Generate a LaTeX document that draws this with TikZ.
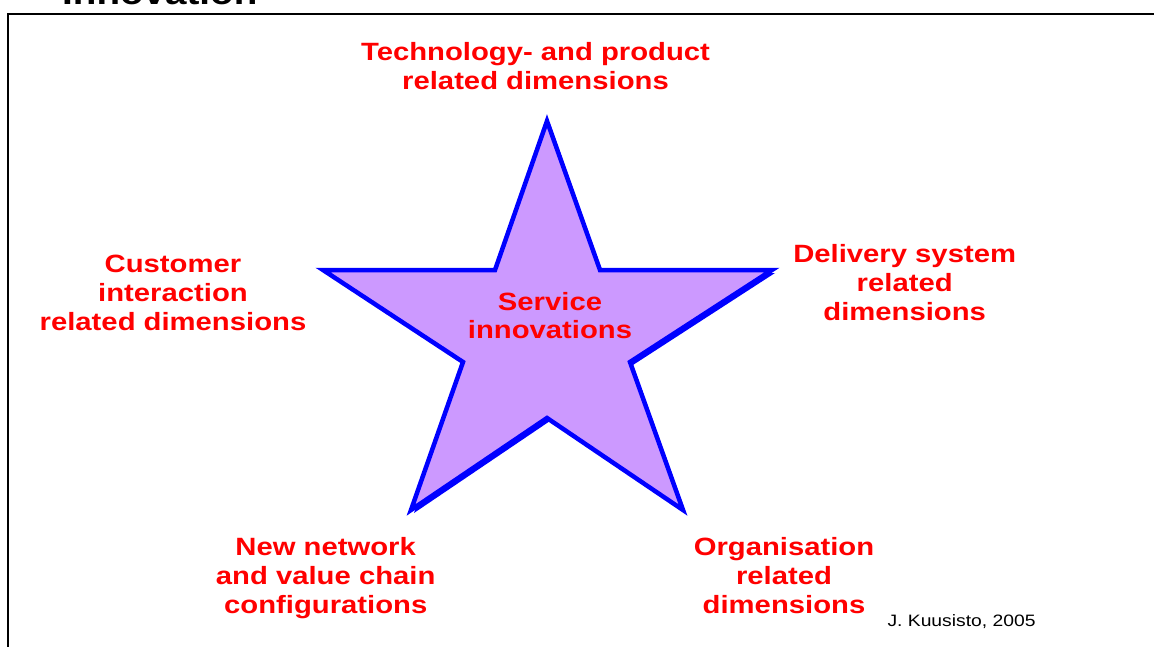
\documentclass[tikz,border=0pt]{standalone}
\usepackage{fontspec}
\setmainfont{Liberation Sans}
\newfontfamily\stretchfont[FakeStretch=1.17]{Liberation Sans}
\definecolor{starfill}{HTML}{CC99FF}
\definecolor{starblue}{HTML}{0000FF}
\definecolor{labelred}{HTML}{FF0000}
\tikzset{
  dimlabel/.style={text=labelred, align=center, inner sep=0pt, anchor=base,
    font=\stretchfont\bfseries\fontsize{25}{29}\selectfont},
  starline/.style={draw=starblue, line width=4.5pt, fill=starfill, line join=miter},
  credit/.style={text=black, inner sep=0pt, anchor=base west,
    font=\stretchfont\fontsize{16.5}{19}\selectfont},
}
\begin{document}
\begin{tikzpicture}[x=1pt,y=-1pt]
\useasboundingbox (0,0) rectangle (1154,646);
% frame
\draw[line width=2pt, black] (7.5,700) -- (7.5,13.5) -- (1200,13.5);
% cut-off title
\node[credit, font=\stretchfont\bfseries\fontsize{33}{38}\selectfont] (title) at (62,4.5) {Innovation};
% star shadow
\fill[starblue] (550,124) -- (498,273) -- (326,273) -- (466,365) -- (414,513)
  -- (550,421) -- (686,513) -- (633,365) -- (775,273) -- (603,273) -- cycle;
% star
\path[starline] (547,121) -- (495,270) -- (323,270) -- (463,362) -- (411,510)
  -- (547,418) -- (683,510) -- (630,362) -- (772,270) -- (600,270) -- cycle;
% labels (anchor = baseline of the last line)
\node[dimlabel] (centre) at (550,338.3) {Service\\[-0.7pt]innovations};
\node[dimlabel] (tech) at (535.5,89.5) {Technology- and product\\related dimensions};
\node[dimlabel] (cust) at (173,330.7) {Customer\\interaction\\related dimensions};
\node[dimlabel] (deliv) at (904.7,320.5) {Delivery system\\related\\dimensions};
\node[dimlabel] (netw) at (325.7,613.5) {New network\\and value chain\\configurations};
\node[dimlabel] (org) at (784,613.5) {Organisation\\related\\dimensions};
\node[credit] (author) at (887.3,626.7) {J. Kuusisto, 2005};
\end{tikzpicture}
\end{document}
